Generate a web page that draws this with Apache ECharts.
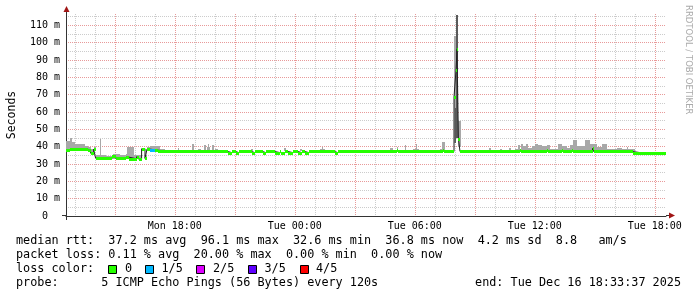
<!DOCTYPE html>
<html><head><meta charset="utf-8">
<script src="https://cdn.jsdelivr.net/npm/echarts@6/dist/echarts.min.js"></script>
<style>html,body{margin:0;padding:0;background:#fff}#c{width:697px;height:297px}</style>
</head><body><div id="c"></div>
<script>
// time unit: hours since Mon 00:00
const START = 12.56, END = 42.56;
const yTickValues = [0,5,10,15,20,25,30,35,40,45,50,55,60,65,70,75,80,85,90,95,100,105,110,115];
const yLabelValues = [0,10,20,30,40,50,60,70,80,90,100,110];
const xGridHours = [13,14,15,16,17,18,19,20,21,22,23,24,25,26,27,28,29,30,31,32,33,34,35,36,37,38,39,40,41,42];
const xLabelHours = [18,24,30,36,42];

// median rtt (ms), step segments starting at medT
const medT = [12.56,12.74,12.99,13.49,13.64,13.79,13.94,14.04,14.84,15.04,15.54,15.69,16.09,16.19,16.34,16.51,16.61,16.74,16.99,17.14,17.49,20.64,20.84,21.04,21.19,21.84,21.99,22.39,22.54,22.99,23.24,23.29,23.49,23.64,23.89,24.14,24.34,24.49,24.69,25.99,26.14,29.09,29.14,31.39,31.44,31.96,32.06,32.11,32.18,32.26,35.24,35.29,36.59,36.64,37.34,37.39,37.84,37.89,38.89,38.94,40.89,41.24,41.49];
const medV = [38.3,38.5,38.9,38.6,38.0,36.2,38.5,33.4,34.5,33.3,34.0,33.0,34.2,32.8,38.8,33.2,38.6,38.2,38.0,37.5,37.2,36.6,37.2,36.6,37.2,36.6,37.2,36.6,37.2,36.6,37.2,36.6,37.2,36.6,37.2,36.6,37.2,36.6,37.2,36.6,37.2,37.8,37.2,37.8,37.2,68.6,84.0,96.1,44.6,37.2,38.0,37.2,38.0,37.2,38.0,37.2,38.0,37.2,39.0,37.2,36.6,36.2,36.6];
const medLoss = [0,0,0,0,0,0,0,0,0,0,0,0,0,0,0,0,0,1,0,0,0,0,0,0,0,0,0,0,0,0,0,0,0,0,0,0,0,0,0,0,0,0,0,0,0,0,0,0,0,0,0,0,0,0,0,0,0,0,0,0,0,0,0];

// smoke (ping spread), step segments
const smT = [12.56,12.74,12.84,12.99,13.49,13.64,13.79,13.94,14.04,14.24,14.31,14.54,14.89,15.24,15.54,15.59,15.94,16.34,16.51,16.61,16.74,17.24,17.49,18.14,18.19,18.84,18.94,19.14,19.29,19.46,19.54,19.59,19.66,19.71,19.76,19.86,19.94,19.99,20.14,21.79,21.89,23.44,23.54,24.24,24.34,25.24,25.34,25.39,25.49,28.74,28.89,29.09,29.14,29.51,29.56,29.89,30.06,30.11,30.19,31.26,31.34,31.49,31.96,32.07,32.17,32.32,33.71,33.79,34.26,34.34,34.71,34.79,34.99,35.14,35.24,35.29,35.39,35.54,35.64,35.84,35.99,36.14,36.34,36.59,36.74,37.14,37.34,37.59,37.74,37.89,38.09,38.49,38.74,38.89,39.09,39.34,39.59,40.09,40.34,40.59,40.64,40.99];
const smLo = [37.5,37.5,37.5,38,37.5,37,35.5,37.5,33,33,33,33,33,33,33,33,33,38,33,38,37.8,37.2,null,37.2,null,37.2,null,37.2,null,37.2,null,37.2,37.2,37.2,null,37.2,null,37.2,null,37.2,null,37.2,null,37.2,null,37.2,37.2,37.2,null,37.2,null,37.2,null,37.2,null,37.2,37.2,37.2,null,37.2,37.2,null,42,45,40,null,37.2,null,37.2,null,37.2,null,37.2,37.2,37.2,37.2,37.2,37.2,37.2,37.2,37.2,37.2,37.2,37.2,37.2,37.2,37.2,37.2,37.2,37.2,37.2,37.2,37.2,37.2,37.2,37.2,37.2,37.2,37.2,37.2,37.2,null];
const smHi = [43,45,42.5,41.5,40.5,40,38.5,40,35,44.2,35,34.8,35.8,35,36,40,35,39.5,35,40,40.4,38.5,null,39.2,null,41.8,null,38.5,null,40.8,null,39.6,41.8,39.6,null,40.8,null,38.5,null,38.5,null,39.2,null,38.8,null,38.5,39.8,38.5,null,39.2,null,40,null,41.2,null,38.5,41.3,38.5,null,38.5,42.5,null,104,116,55,null,39.2,null,38.5,null,39.2,null,38.5,40.8,38.5,41.8,40.2,41.3,39.2,40.2,41.8,40.8,40.2,40.8,38.8,41.8,40.5,39.5,40.8,44,40.2,43.7,41.8,41.3,39.8,41.3,38.8,39.2,38.8,39.8,38.5,null];
// darker inner smoke
const dkT = [32.02,32.07,32.17];
const dkLo = [42,45,null];
const dkHi = [62,116,null];

const lossNames = ['0','1/5','2/5','3/5','4/5'];
const lossColors = ['#26ff00','#00b8ff','#dd00ff','#5e00ff','#ff0000'];

const MONO = '"DejaVu Sans Mono", monospace';

function buildSegs(t, lo, hi) {
  const out = [];
  for (let i = 0; i < t.length; i++) {
    if (hi[i] == null) continue;
    const t1 = i + 1 < t.length ? t[i + 1] : END;
    out.push([t[i], t1, lo[i], hi[i]]);
  }
  return out;
}
const smokeData = buildSegs(smT, smLo, smHi);
const darkData = buildSegs(dkT, dkLo, dkHi);
const bandData = medT.map((t, i) => [t, i + 1 < medT.length ? medT[i + 1] : END, medV[i], medLoss[i]]);
const lineData = medT.map((t, i) => [t, medV[i]]).concat([[END, medV[medV.length - 1]]]);

function rectRender(fill) {
  return function (params, api) {
    const a = api.coord([api.value(0), api.value(3)]);
    const b = api.coord([api.value(1), api.value(2)]);
    const x0 = Math.round(a[0]), x1 = Math.max(Math.round(b[0]), x0 + 1);
    const y0 = Math.round(a[1]), y1 = Math.max(Math.round(b[1]), y0 + 1);
    return { type: 'rect', shape: { x: x0, y: y0, width: x1 - x0, height: y1 - y0 }, style: { fill: fill } };
  };
}
function bandRender(params, api) {
  const a = api.coord([api.value(0), api.value(2)]);
  const b = api.coord([api.value(1), api.value(2)]);
  const x0 = Math.round(a[0]), x1 = Math.max(Math.round(b[0]), x0 + 1);
  const yc = Math.round(a[1]);
  return { type: 'rect', shape: { x: x0, y: yc - 1, width: x1 - x0, height: 3 },
           style: { fill: lossColors[api.value(3)] } };
}
function fmtX(v) {
  const d = v < 24 ? 'Mon ' : 'Tue ';
  const h = v % 24;
  return d + (h < 10 ? '0' + h : h) + ':00';
}

const chart = echarts.init(document.getElementById('c'), null, { renderer: 'canvas' });

const textRows = [
  { y: 241, text: 'median rtt:  37.2 ms avg  96.1 ms max  32.6 ms min  36.8 ms now  4.2 ms sd  8.8   am/s' },
  { y: 255, text: 'packet loss: 0.11 % avg  20.00 % max  0.00 % min  0.00 % now' },
  { y: 269, text: 'loss color:' },
  { y: 283, text: 'probe:      5 ICMP Echo Pings (56 Bytes) every 120s' }
];
const legendBoxX = [108, 145, 196, 248, 300];
const legendTextX = [125, 161.5, 213, 264.5, 316];

const graphics = [];
textRows.forEach(r => graphics.push({ type: 'text', x: 16, y: r.y, silent: true,
  style: { text: r.text, font: '11.8px ' + MONO, fill: '#000', verticalAlign: 'middle', align: 'left' } }));
graphics.push({ type: 'text', x: 681, y: 283, silent: true,
  style: { text: 'end: Tue Dec 16 18:33:37 2025', font: '11.8px ' + MONO, fill: '#000', verticalAlign: 'middle', align: 'right' } });
lossNames.forEach((n, i) => {
  graphics.push({ type: 'rect', silent: true, shape: { x: legendBoxX[i] + 0.5, y: 265.5, width: 8, height: 8 },
    style: { fill: lossColors[i], stroke: '#000', lineWidth: 1 } });
  graphics.push({ type: 'text', x: legendTextX[i], y: 269, silent: true,
    style: { text: n, font: '11.8px ' + MONO, fill: '#000', verticalAlign: 'middle', align: 'left' } });
});
// watermark
graphics.push({ type: 'text', x: 688, y: 5, rotation: -Math.PI / 2, silent: true,
  style: { text: 'RRDTOOL / TOBI OETIKER', font: '8.5px "DejaVu Sans"', fill: '#aaaaaa', verticalAlign: 'middle', align: 'left' } });
// axis extensions and arrows
graphics.push({ type: 'line', silent: true, shape: { x1: 66.5, y1: 14, x2: 66.5, y2: 10 }, style: { stroke: '#333', lineWidth: 1 } });
graphics.push({ type: 'line', silent: true, shape: { x1: 62, y1: 215.5, x2: 66, y2: 215.5 }, style: { stroke: '#333', lineWidth: 1 } });
graphics.push({ type: 'line', silent: true, shape: { x1: 66.5, y1: 216, x2: 66.5, y2: 220 }, style: { stroke: '#333', lineWidth: 1 } });
graphics.push({ type: 'line', silent: true, shape: { x1: 666, y1: 215.5, x2: 670, y2: 215.5 }, style: { stroke: '#333', lineWidth: 1 } });
graphics.push({ type: 'polygon', silent: true, shape: { points: [[66.5, 6], [63.5, 12], [69.5, 12]] }, style: { fill: '#a01515' } });
graphics.push({ type: 'polygon', silent: true, shape: { points: [[675, 215.5], [669, 212.5], [669, 218.5]] }, style: { fill: '#a01515' } });

chart.setOption({
  animation: false,
  backgroundColor: '#fff',
  grid: { left: 66, width: 600, top: 14, bottom: 81, containLabel: false, outerBoundsMode: 'none' },
  xAxis: {
    type: 'value', min: START, max: END,
    axisLine: { show: true, lineStyle: { color: '#333', width: 1 } },
    axisTick: { show: false, customValues: xGridHours },
    axisLabel: { customValues: xLabelHours, formatter: fmtX, fontFamily: MONO, fontSize: 10, color: '#000', margin: 5 },
    splitLine: { show: true, lineStyle: { color: ['#cccccc', '#cccccc', '#e89a9a'], type: [1, 1], width: 1 } }
  },
  yAxis: {
    type: 'value', min: 0, max: 116.5,
    name: 'Seconds', nameLocation: 'middle', nameGap: 48, nameRotate: 90,
    nameTextStyle: { fontFamily: MONO, fontSize: 11.5, color: '#000' },
    axisLine: { show: true, lineStyle: { color: '#333', width: 1 } },
    axisTick: { show: false, customValues: yTickValues },
    axisLabel: { customValues: yLabelValues, formatter: v => v === 0 ? '0  ' : v + ' m', fontFamily: MONO, fontSize: 10, color: '#000', margin: 6 },
    splitLine: { show: true, lineStyle: { color: ['#e89a9a', '#cccccc'], type: [1, 1], width: 1 } }
  },
  series: [
    { type: 'custom', name: 'smoke', z: 2, silent: true, renderItem: rectRender('#a8a8a8'),
      encode: { x: [0, 1], y: [2, 3] }, data: smokeData },
    { type: 'custom', name: 'smoke-dark', z: 3, silent: true, renderItem: rectRender('#5a5a5a'),
      encode: { x: [0, 1], y: [2, 3] }, data: darkData },
    { type: 'line', name: 'median', z: 4, silent: true, step: 'end', symbol: 'none',
      lineStyle: { color: '#202020', width: 1 }, data: lineData },
    { type: 'custom', name: 'median-band', z: 5, silent: true, renderItem: bandRender,
      encode: { x: [0, 1], y: 2 }, data: bandData }
  ],
  graphic: graphics
});
</script></body></html>
